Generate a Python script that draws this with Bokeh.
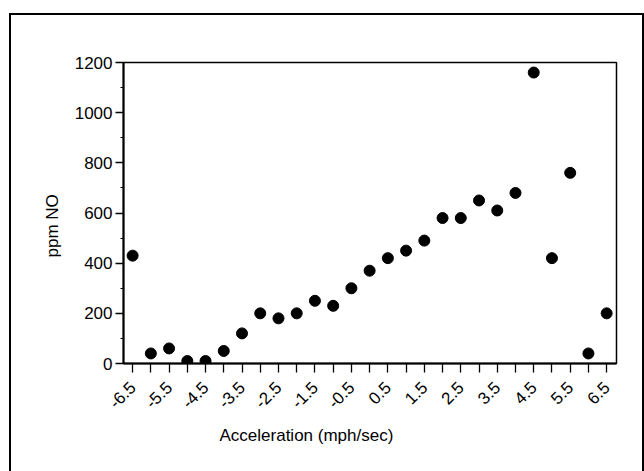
import math
from bokeh.plotting import figure
from bokeh.models import FixedTicker, Range1d, Title, CustomJSTickFormatter, InlineStyleSheet
from bokeh.embed import file_html
from bokeh.resources import INLINE

acceleration = [-6.5, -6.0, -5.5, -5.0, -4.5, -4.0, -3.5, -3.0, -2.5, -2.0, -1.5, -1.0, -0.5, 0.0,
                0.5, 1.0, 1.5, 2.0, 2.5, 3.0, 3.5, 4.0, 4.5, 5.0, 5.5, 6.0, 6.5]
ppm_no = [430, 40, 60, 10, 10, 50, 120, 200, 180, 200, 250, 230, 300, 370,
          420, 450, 490, 580, 580, 650, 610, 680, 1160, 420, 760, 40, 200]
x_tick_values = [-6.5, -5.5, -4.5, -3.5, -2.5, -1.5, -0.5, 0.5, 1.5, 2.5, 3.5, 4.5, 5.5, 6.5]
x_minor_values = [-6.0, -5.0, -4.0, -3.0, -2.0, -1.0, 0.0, 1.0, 2.0, 3.0, 4.0, 5.0, 6.0]
y_tick_values = [0, 200, 400, 600, 800, 1000, 1200]
y_minor_values = [100, 300, 500, 700, 900, 1100]
x_title = "Acceleration (mph/sec)"
y_title = "ppm NO"

FONT = "Liberation Sans"

page_css = InlineStyleSheet(css="""
:host::after {
  content: "";
  position: absolute;
  left: 9px;
  top: 13px;
  width: 631px;
  height: 600px;
  border: 2px solid black;
  pointer-events: none;
  z-index: 50;
}
""")

p = figure(width=644, height=471, output_backend="svg", toolbar_location=None,
           x_range=Range1d(-6.75, 6.77), y_range=Range1d(0, 1200),
           min_border_left=123, min_border_right=28, min_border_top=62, min_border_bottom=108,
           stylesheets=[page_css])
p.background_fill_color = "white"
p.border_fill_color = "white"
p.grid.visible = False
p.outline_line_color = "black"
p.outline_line_width = 1.5

p.scatter(acceleration, ppm_no, size=11, color="black")

xa = p.xaxis[0]
xa.ticker = FixedTicker(ticks=x_tick_values, minor_ticks=x_minor_values)
xa.formatter = CustomJSTickFormatter(code="return tick.toFixed(1);")
xa.major_label_orientation = math.pi / 4
xa.major_label_text_font = FONT
xa.major_label_text_font_size = "17px"
xa.major_label_text_color = "black"
xa.major_label_standoff = 12
xa.major_tick_out = 9
xa.major_tick_in = 0
xa.minor_tick_out = 9
xa.minor_tick_in = 0
xa.major_tick_line_width = 1.3
xa.minor_tick_line_width = 1.3
xa.axis_line_width = 2

ya = p.yaxis[0]
ya.ticker = FixedTicker(ticks=y_tick_values, minor_ticks=y_minor_values)
ya.major_label_text_font = FONT
ya.major_label_text_font_size = "17px"
ya.major_label_text_color = "black"
ya.major_label_standoff = 3
ya.major_tick_out = 8
ya.major_tick_in = 0
ya.minor_tick_out = 3
ya.minor_tick_in = 0
ya.major_tick_line_width = 1.3
ya.axis_line_width = 2

xt = Title(text=x_title, align="left", offset=96, text_font=FONT, text_font_size="17px",
           text_font_style="normal", text_color="black", standoff=15)
p.add_layout(xt, "below")

yt = Title(text=y_title, align="left", offset=106, text_font=FONT, text_font_size="17px",
           text_font_style="normal", text_color="black", standoff=20)
p.add_layout(yt, "left")

open("out.html", "w").write(file_html(p, INLINE))
